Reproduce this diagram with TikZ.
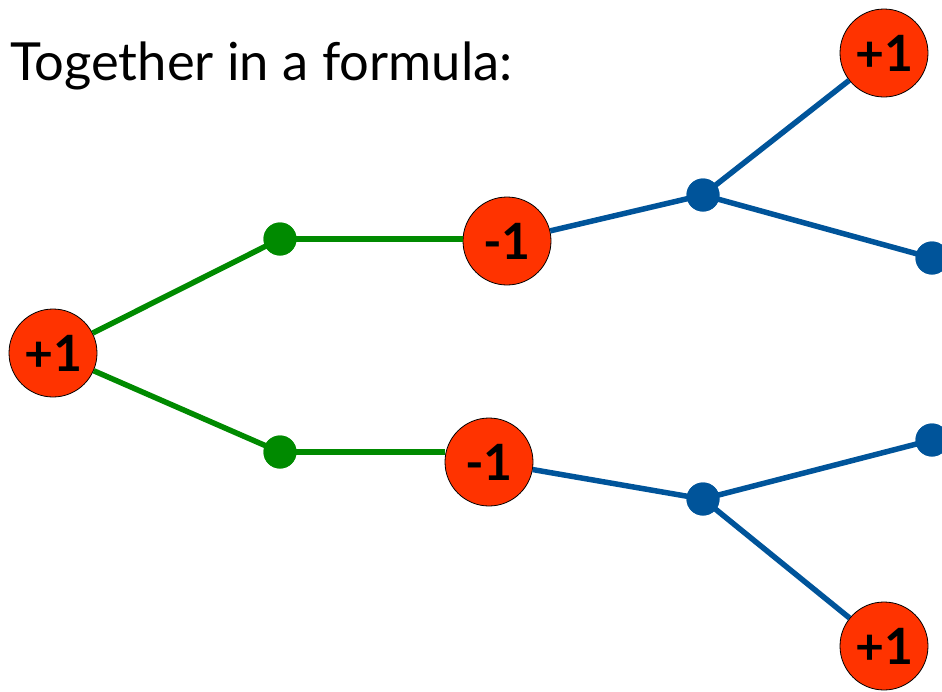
\documentclass[tikz,border=0pt]{standalone}
\usepackage{fontspec}
\setmainfont{Lato}
\definecolor{nodered}{HTML}{FF3300}
\definecolor{lgreen}{HTML}{008A00}
\definecolor{lblue}{HTML}{00549A}
\begin{document}
\begin{tikzpicture}[x=1pt,y=-1pt,
  val/.style={circle,draw=black,line width=0.8pt,fill=nodered,minimum size=88pt,inner sep=0pt,font=\fontsize{50}{50}\selectfont\bfseries},
  gdot/.style={circle,fill=lgreen,minimum size=33pt,inner sep=0pt},
  bdot/.style={circle,fill=lblue,minimum size=33pt,inner sep=0pt},
  gline/.style={draw=lgreen,line width=5.5pt},
  bline/.style={draw=lblue,line width=5.5pt}]
\useasboundingbox (0,0) rectangle (942,691);
\begin{scope}
\clip (0,0) rectangle (942,691);
\node[anchor=base west,font=\fontsize{52.5}{52.5}\selectfont,inner sep=0pt] (title) at (10,80) {Together in a formula:};
\node[val] (R) at (53,353) {+1};
\node[val] (M1) at (507,241) {-1};
\node[val] (M2) at (489,462) {-1};
\node[val] (T1) at (884,53) {+1};
\node[val] (T2) at (884,646) {+1};
\node[gdot] (G1) at (280,239) {};
\node[gdot] (G2) at (280,452) {};
\node[bdot] (B1) at (703,195) {};
\node[bdot] (B2) at (703,499) {};
\node[bdot] (P1) at (932,258) {};
\node[bdot] (P2) at (932,440) {};
\draw[gline] (R) -- (G1.center);
\draw[gline] (G1.center) -- (M1.west |- G1.center);
\draw[gline] (R) -- (G2.center);
\draw[gline] (G2.center) -- (M2.west |- G2.center);
\draw[bline] (M1) -- (B1.center);
\draw[bline] (B1.center) -- (T1);
\draw[bline] (B1.center) -- (P1.center);
\draw[bline] (M2) -- (B2.center);
\draw[bline] (B2.center) -- (P2.center);
\draw[bline] (B2.center) -- (T2);
\node[gdot] at (G1) {};
\node[gdot] at (G2) {};
\node[bdot] at (B1) {};
\node[bdot] at (B2) {};
\node[bdot] at (P1) {};
\node[bdot] at (P2) {};
\end{scope}
\end{tikzpicture}
\end{document}
